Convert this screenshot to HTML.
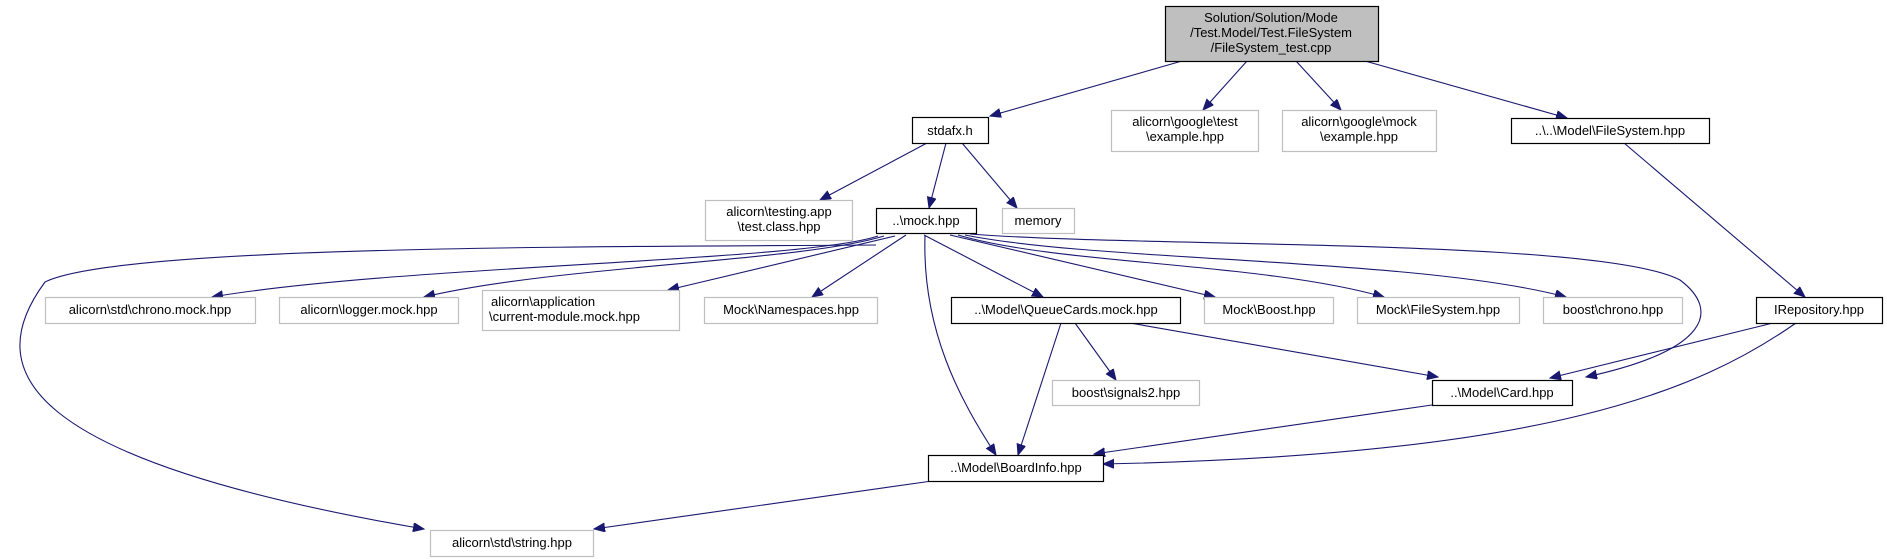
<!DOCTYPE html>
<html><head><meta charset="utf-8"><style>
html,body{margin:0;padding:0;background:#fff;}
svg{display:block;}
text{font-family:"Liberation Sans",sans-serif;font-size:13px;fill:#000;}
</style></head><body>
<svg width="1887" height="559" viewBox="0 0 1887 559" xmlns="http://www.w3.org/2000/svg">
<defs>
<marker id="a" markerUnits="userSpaceOnUse" markerWidth="12" markerHeight="10" refX="11" refY="4.5" orient="auto">
<path d="M0,0 L11,4.5 L0,9 z" fill="#191970" stroke="#191970"/>
</marker>
</defs>
<g fill="none" stroke="#191970" stroke-width="1.1" marker-end="url(#a)">
<path d="M1182 61 L990 116"/>
<path d="M1247 61 L1203 110"/>
<path d="M1296 61 L1341 110"/>
<path d="M1365 61 L1567 118"/>
<path d="M927 143 L820 200"/>
<path d="M946 143 L929 208"/>
<path d="M962 143 L1017 208"/>
<path d="M1624 143 L1805 297"/>
<path d="M878 236 C800 262 400 265 212 297"/>
<path d="M884 236 C800 262 560 265 424 297"/>
<path d="M895 236 L668 290"/>
<path d="M906 235 L812 297"/>
<path d="M924 235 L1043 297"/>
<path d="M950 235 L1215 297"/>
<path d="M958 235 C1060 265 1260 262 1384 297"/>
<path d="M965 235 C1100 262 1420 258 1566 297"/>
<path d="M970 234 C1150 248 1600 238 1680 280 C1720 310 1710 350 1586 377"/>
<path d="M925 236 C922 330 960 400 996 455"/>
<path d="M876 245 C600 247 120 245 45 282 C-20 370 20 460 424 529"/>
<path d="M1075 323 L1116 380"/>
<path d="M1061 323 L1018 455"/>
<path d="M1130 323 L1438 377"/>
<path d="M1432 405 L1094 454"/>
<path d="M1773 323 L1550 378"/>
<path d="M1796 323 C1700 390 1550 455 1103 464"/>
<path d="M932 481 L594 529"/>
</g>
<g stroke-width="1.2">
<rect x="1165.5" y="6.5" width="213" height="55" fill="#bfbfbf" stroke="#000"/>
<rect x="912.5" y="117.5" width="76" height="26" fill="#fff" stroke="#000"/>
<rect x="1111.5" y="110.5" width="147" height="41" fill="#fff" stroke="#bfbfbf"/>
<rect x="1282.5" y="110.5" width="154" height="41" fill="#fff" stroke="#bfbfbf"/>
<rect x="1511.5" y="118.5" width="198" height="25" fill="#fff" stroke="#000"/>
<rect x="705.5" y="200.5" width="147" height="40" fill="#fff" stroke="#bfbfbf"/>
<rect x="876.5" y="208.5" width="100" height="25" fill="#fff" stroke="#000"/>
<rect x="1002.5" y="208.5" width="72" height="25" fill="#fff" stroke="#bfbfbf"/>
<rect x="45.5" y="297.5" width="210" height="26" fill="#fff" stroke="#bfbfbf"/>
<rect x="279.5" y="297.5" width="179" height="26" fill="#fff" stroke="#bfbfbf"/>
<rect x="482.5" y="290.5" width="197" height="40" fill="#fff" stroke="#bfbfbf"/>
<rect x="704.5" y="297.5" width="173" height="26" fill="#fff" stroke="#bfbfbf"/>
<rect x="951.5" y="297.5" width="229" height="26" fill="#fff" stroke="#000"/>
<rect x="1204.5" y="297.5" width="129" height="26" fill="#fff" stroke="#bfbfbf"/>
<rect x="1357.5" y="297.5" width="162" height="26" fill="#fff" stroke="#bfbfbf"/>
<rect x="1543.5" y="297.5" width="139" height="26" fill="#fff" stroke="#bfbfbf"/>
<rect x="1756.5" y="297.5" width="126" height="26" fill="#fff" stroke="#000"/>
<rect x="1052.5" y="380.5" width="147" height="25" fill="#fff" stroke="#bfbfbf"/>
<rect x="1432.5" y="380.5" width="140" height="25" fill="#fff" stroke="#000"/>
<rect x="928.5" y="455.5" width="175" height="26" fill="#fff" stroke="#000"/>
<rect x="430.5" y="530.5" width="163" height="26" fill="#fff" stroke="#bfbfbf"/>
</g>
<g text-anchor="middle">
<text x="1271" y="22">Solution/Solution/Mode</text>
<text x="1271" y="37">/Test.Model/Test.FileSystem</text>
<text x="1271" y="52">/FileSystem_test.cpp</text>
<text x="950" y="135">stdafx.h</text>
<text x="1185" y="126">alicorn\google\test</text>
<text x="1185" y="141">\example.hpp</text>
<text x="1359" y="126">alicorn\google\mock</text>
<text x="1359" y="141">\example.hpp</text>
<text x="1610" y="135">..\..\Model\FileSystem.hpp</text>
<text x="779" y="216">alicorn\testing.app</text>
<text x="779" y="231">\test.class.hpp</text>
<text x="926" y="225">..\mock.hpp</text>
<text x="1038" y="225">memory</text>
<text x="150" y="314">alicorn\std\chrono.mock.hpp</text>
<text x="369" y="314">alicorn\logger.mock.hpp</text>
<text x="791" y="314">Mock\Namespaces.hpp</text>
<text x="1066" y="314">..\Model\QueueCards.mock.hpp</text>
<text x="1269" y="314">Mock\Boost.hpp</text>
<text x="1438" y="314">Mock\FileSystem.hpp</text>
<text x="1613" y="314">boost\chrono.hpp</text>
<text x="1819" y="314">IRepository.hpp</text>
<text x="1126" y="397">boost\signals2.hpp</text>
<text x="1502" y="397">..\Model\Card.hpp</text>
<text x="1016" y="472">..\Model\BoardInfo.hpp</text>
<text x="512" y="547">alicorn\std\string.hpp</text>
</g>
<text x="491" y="306">alicorn\application</text>
<text x="489" y="321">\current-module.mock.hpp</text>
</svg>
</body></html>
